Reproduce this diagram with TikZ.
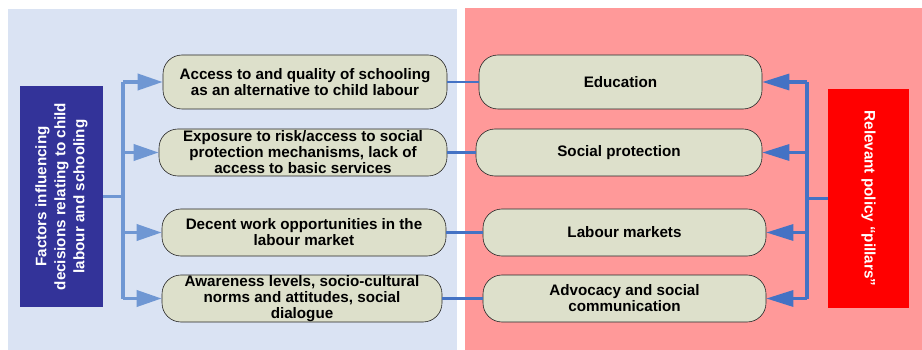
\documentclass[tikz,border=0pt]{standalone}
\usepackage{fontspec}
\setmainfont{Liberation Sans}
\usetikzlibrary{arrows.meta,positioning}
\definecolor{panelblue}{HTML}{DAE3F3}
\definecolor{panelpink}{HTML}{FF9999}
\definecolor{boxfill}{HTML}{DDE0CB}
\definecolor{factorblue}{HTML}{333399}
\definecolor{pillarred}{HTML}{FF0000}
\definecolor{buslight}{HTML}{6F97D3}
\definecolor{linkblue}{HTML}{4472C4}
\tikzset{
    policy diagram/.style = {x=1pt, y=-1pt,
                             font=\bfseries\fontsize{15.2}{16}\selectfont},
    panel/.style          = {draw=none},
    factor/.style         = {draw=black!85, fill=boxfill, semithick,
                             rounded corners=19pt, align=center,
                             inner sep=0pt, minimum height=47pt},
    pillar/.style         = {factor},
    sidebox/.style        = {inner sep=0pt, text=white, align=center,
                             font=\bfseries\fontsize{15.2}{19}\selectfont},
    feed/.style           = {buslight, line width=3.6pt,
                             -{Triangle[length=25pt, width=16pt]}},
    feed bus/.style       = {buslight, line width=3.6pt},
    back/.style           = {linkblue, line width=3.2pt,
                             -{Triangle[length=27pt, width=16pt]}},
    back bus/.style       = {linkblue, line width=3.2pt},
    link/.style           = {linkblue, line width=2.6pt}
}

\begin{document}
\begin{tikzpicture}[policy diagram]

\useasboundingbox (0,0) rectangle (922,350);

% ================= Background panels =================
\fill[panelblue] (8,9) rectangle (457,350);
\fill[panelpink] (465,8) rectangle (922,350);

% ================= Side boxes =================
\node[sidebox, fill=factorblue, rotate=90, minimum width=221pt,
      minimum height=83pt] (factors) at (61.5,196.5)
     {Factors influencing\\decisions relating to child\\labour and schooling};
\node[sidebox, fill=pillarred, rotate=-90, minimum width=219pt,
      minimum height=81pt] (pillars) at (868.5,198.5)
     {Relevant policy “pillars”};

% ================= Factor boxes =================
\node[factor, minimum width=284pt, minimum height=54pt] (schooling) at (305,82)
     {Access to and quality of schooling\\as an alternative to child labour};
\node[factor, minimum width=288pt] (risk) at (303,152.5)
     {Exposure to risk/access to social\\protection mechanisms, lack of\\access to basic services};
\node[factor, minimum width=284pt] (work) at (304,232.5)
     {Decent work opportunities in the\\labour market};
\node[factor, minimum width=280pt] (norms) at (302,298.5)
     {Awareness levels, socio-cultural\\norms and attitudes, social\\dialogue};

% ================= Policy pillars =================
\node[pillar, minimum width=283pt, minimum height=54pt] (education) at (620.5,82)
     {Education};
\node[pillar, minimum width=286pt] (protection) at (619,152.5)
     {Social protection};
\node[pillar, minimum width=283pt] (labour) at (624.5,232.5)
     {Labour markets};
\node[pillar, minimum width=283pt] (advocacy) at (624.5,298.5)
     {Advocacy and social\\communication};

% ================= Factor bus =================
\coordinate (fbus top) at (123,82);
\coordinate (fbus bottom) at (123,298.5);
\draw[feed bus] (fbus top) -- (fbus bottom);
\draw[feed bus] (factors.south) -- (factors.south -| fbus top);
\foreach \target in {schooling, risk, work, norms}
    \draw[feed] (fbus top |- \target.west) -- (\target.west);

% ================= Links across panels =================
\draw[link] (schooling.east) -- (education.west);
\draw[link] (risk.east) -- (protection.west);
\draw[link] (work.east) -- (labour.west);
\draw[link] (norms.east) -- (advocacy.west);

% ================= Pillar bus =================
\coordinate (pbus top) at (807,82);
\coordinate (pbus bottom) at (807,298.5);
\draw[back bus] (pbus top) -- (pbus bottom);
\draw[back bus] (pillars.south) -- (pillars.south -| pbus top);
\foreach \target in {education, protection, labour, advocacy}
    \draw[back] (pbus top |- \target.east) -- (\target.east);

\end{tikzpicture}
\end{document}
